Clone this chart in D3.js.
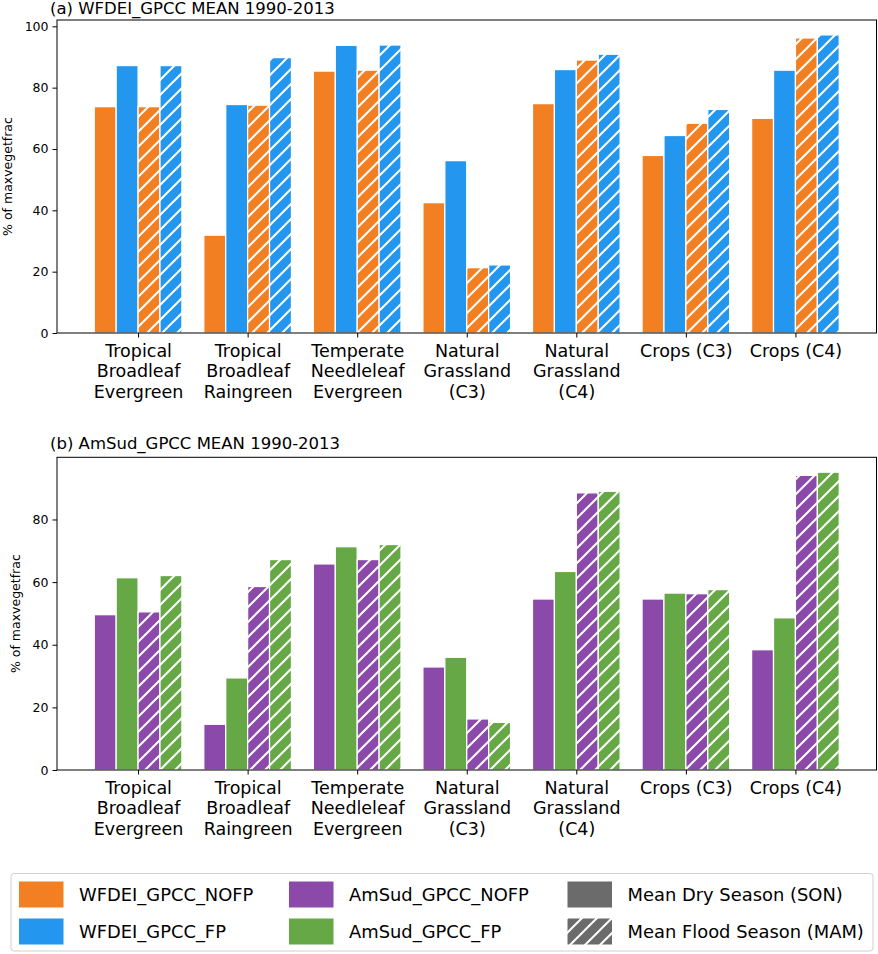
<!DOCTYPE html>
<html>
<head>
<meta charset="utf-8">
<script src="https://cdn.jsdelivr.net/npm/d3@7"></script>
<style>
  html, body { margin: 0; padding: 0; background: #fff; }
  svg { display: block; font-family: "DejaVu Sans", sans-serif; }
</style>
</head>
<body>
<svg id="chart" width="878" height="954"></svg>
<script>
// ---------- data ----------
const categories = [
  ["Tropical", "Broadleaf", "Evergreen"],
  ["Tropical", "Broadleaf", "Raingreen"],
  ["Temperate", "Needleleaf", "Evergreen"],
  ["Natural", "Grassland", "(C3)"],
  ["Natural", "Grassland", "(C4)"],
  ["Crops (C3)"],
  ["Crops (C4)"]
];

// panel (a) WFDEI_GPCC
const wfdeiNofpDry   = [73.8, 31.9, 85.4, 42.5, 74.8, 57.9, 70.0];
const wfdeiFpDry     = [87.2, 74.5, 93.8, 56.2, 85.9, 64.4, 85.7];
const wfdeiNofpFlood = [73.8, 74.3, 85.7, 21.3, 89.0, 68.4, 96.2];
const wfdeiFpFlood   = [87.2, 89.8, 93.9, 22.2, 90.9, 72.9, 97.2];

// panel (b) AmSud_GPCC
const amsudNofpDry   = [49.6, 14.6, 65.8, 32.9, 54.6, 54.6, 38.4];
const amsudFpDry     = [61.4, 29.4, 71.3, 36.0, 63.4, 56.5, 48.6];
const amsudNofpFlood = [50.5, 58.6, 67.2, 16.3, 88.5, 56.3, 94.1];
const amsudFpFlood   = [62.1, 67.2, 72.0, 15.2, 89.0, 57.6, 95.1];

const ticksA = [0, 20, 40, 60, 80, 100];
const ticksB = [0, 20, 40, 60, 80];

const titles = ["(a) WFDEI_GPCC MEAN 1990-2013", "(b) AmSud_GPCC MEAN 1990-2013"];
const yLabel = "% of maxvegetfrac";

const legendItems = [
  {label: "WFDEI_GPCC_NOFP", color: "#F28022", hatch: false},
  {label: "WFDEI_GPCC_FP", color: "#2396F0", hatch: false},
  {label: "AmSud_GPCC_NOFP", color: "#8B4AA9", hatch: false},
  {label: "AmSud_GPCC_FP", color: "#66A846", hatch: false},
  {label: "Mean Dry Season (SON)", color: "#6B6B6B", hatch: false},
  {label: "Mean Flood Season (MAM)", color: "#6B6B6B", hatch: true}
];

// ---------- drawing ----------
const svg = d3.select("#chart");
const defs = svg.append("defs");

function hatchPattern(id, color) {
  const p = defs.append("pattern")
    .attr("id", id)
    .attr("patternUnits", "userSpaceOnUse")
    .attr("width", 15).attr("height", 15);
  p.append("rect").attr("width", 15).attr("height", 15).attr("fill", color);
  p.append("path")
    .attr("d", "M-3.75,3.75 L3.75,-3.75 M0,15 L15,0 M11.25,18.75 L18.75,11.25")
    .attr("stroke", "#fff").attr("stroke-width", 2).attr("fill", "none");
  return `url(#${id})`;
}

const left = 57, right = 876.5;
const nCat = categories.length;
const barW = 0.2;
const x = d3.scaleLinear()
  .domain([-2 * barW - 0.34, (nCat - 1) + 2 * barW + 0.34])
  .range([left, right]);

function panel(cfg) {
  const {top, bottom, series, ticks, title, idx} = cfg;
  const maxV = d3.max(series.flatMap(s => s.values));
  const y = d3.scaleLinear().domain([0, maxV * 1.05]).range([bottom, top]);
  const g = svg.append("g");

  // bars
  series.forEach((s, k) => {
    const fill = s.hatch ? hatchPattern(`h${idx}_${k}`, s.color) : s.color;
    g.append("g").selectAll("rect")
      .data(s.values)
      .join("rect")
      .attr("x", (d, i) => x(i + (k - 1.5) * barW - barW / 2))
      .attr("width", x(barW) - x(0))
      .attr("y", d => y(d))
      .attr("height", d => y(0) - y(d))
      .attr("fill", fill)
      .attr("stroke", "#fff")
      .attr("stroke-width", 1.25);
  });

  // frame
  g.append("rect")
    .attr("x", left).attr("y", top)
    .attr("width", right - left).attr("height", bottom - top)
    .attr("fill", "none").attr("stroke", "#000").attr("stroke-width", 1);

  // y axis
  const yAxis = d3.axisLeft(y).tickValues(ticks).tickSize(4.5).tickPadding(4).tickFormat(d3.format("d"));
  const ya = g.append("g").attr("transform", `translate(${left},0)`).call(yAxis);
  ya.select(".domain").remove();
  ya.selectAll("text").attr("font-size", 12.5).attr("fill", "#000").attr("font-family", "DejaVu Sans");
  ya.selectAll("line").attr("stroke", "#000");

  // x axis
  const xAxis = d3.axisBottom(x).tickValues(d3.range(nCat)).tickSize(4.5).tickFormat("");
  const xa = g.append("g").attr("transform", `translate(0,${bottom})`).call(xAxis);
  xa.select(".domain").remove();
  xa.selectAll("line").attr("stroke", "#000");
  xa.selectAll(".tick").each(function(d, i) {
    const t = d3.select(this).append("text")
      .attr("text-anchor", "middle")
      .attr("font-size", 17.5)
      .attr("fill", "#000")
      .attr("font-family", "DejaVu Sans");
    categories[i].forEach((line, j) => {
      t.append("tspan").attr("x", 0).attr("y", 23.5 + j * 20.5).text(line);
    });
  });

  // title
  g.append("text")
    .attr("x", 50).attr("y", Math.max(top - 8.5, 13.5))
    .attr("font-size", 16.5).attr("fill", "#000")
    .text(title);

  // y label
  const ylx = cfg.ylabelX;
  g.append("text")
    .attr("transform", `translate(${ylx},${(top + bottom) / 2}) rotate(-90)`)
    .attr("text-anchor", "middle")
    .attr("dominant-baseline", "central")
    .attr("font-size", 12.5).attr("fill", "#000")
    .text(yLabel);
}

panel({
  idx: 0, top: 20, bottom: 333, ticks: ticksA, title: titles[0], ylabelX: 7.5,
  series: [
    {values: wfdeiNofpDry, color: legendItems[0].color, hatch: false},
    {values: wfdeiFpDry, color: legendItems[1].color, hatch: false},
    {values: wfdeiNofpFlood, color: legendItems[0].color, hatch: true},
    {values: wfdeiFpFlood, color: legendItems[1].color, hatch: true}
  ]
});

panel({
  idx: 1, top: 457.3, bottom: 770, ticks: ticksB, title: titles[1], ylabelX: 15,
  series: [
    {values: amsudNofpDry, color: legendItems[2].color, hatch: false},
    {values: amsudFpDry, color: legendItems[3].color, hatch: false},
    {values: amsudNofpFlood, color: legendItems[2].color, hatch: true},
    {values: amsudFpFlood, color: legendItems[3].color, hatch: true}
  ]
});

// ---------- legend ----------
const lg = svg.append("g");
lg.append("rect")
  .attr("x", 11).attr("y", 873.5)
  .attr("width", 862).attr("height", 77.5)
  .attr("rx", 3)
  .attr("fill", "#fff").attr("stroke", "#d0d0d0").attr("stroke-width", 1);

const colX = [19, 289, 567.5];
const rowY = [881.5, 918.5];
legendItems.forEach((it, i) => {
  const c = Math.floor(i / 2), r = i % 2;
  const fill = it.hatch ? hatchPattern("hleg", it.color) : it.color;
  lg.append("rect")
    .attr("x", colX[c]).attr("y", rowY[r])
    .attr("width", 44.5).attr("height", 26)
    .attr("fill", fill);
  lg.append("text")
    .attr("x", colX[c] + 60).attr("y", rowY[r] + 13)
    .attr("dominant-baseline", "central")
    .attr("font-size", 17.9).attr("fill", "#000")
    .text(it.label);
});
</script>
</body>
</html>
